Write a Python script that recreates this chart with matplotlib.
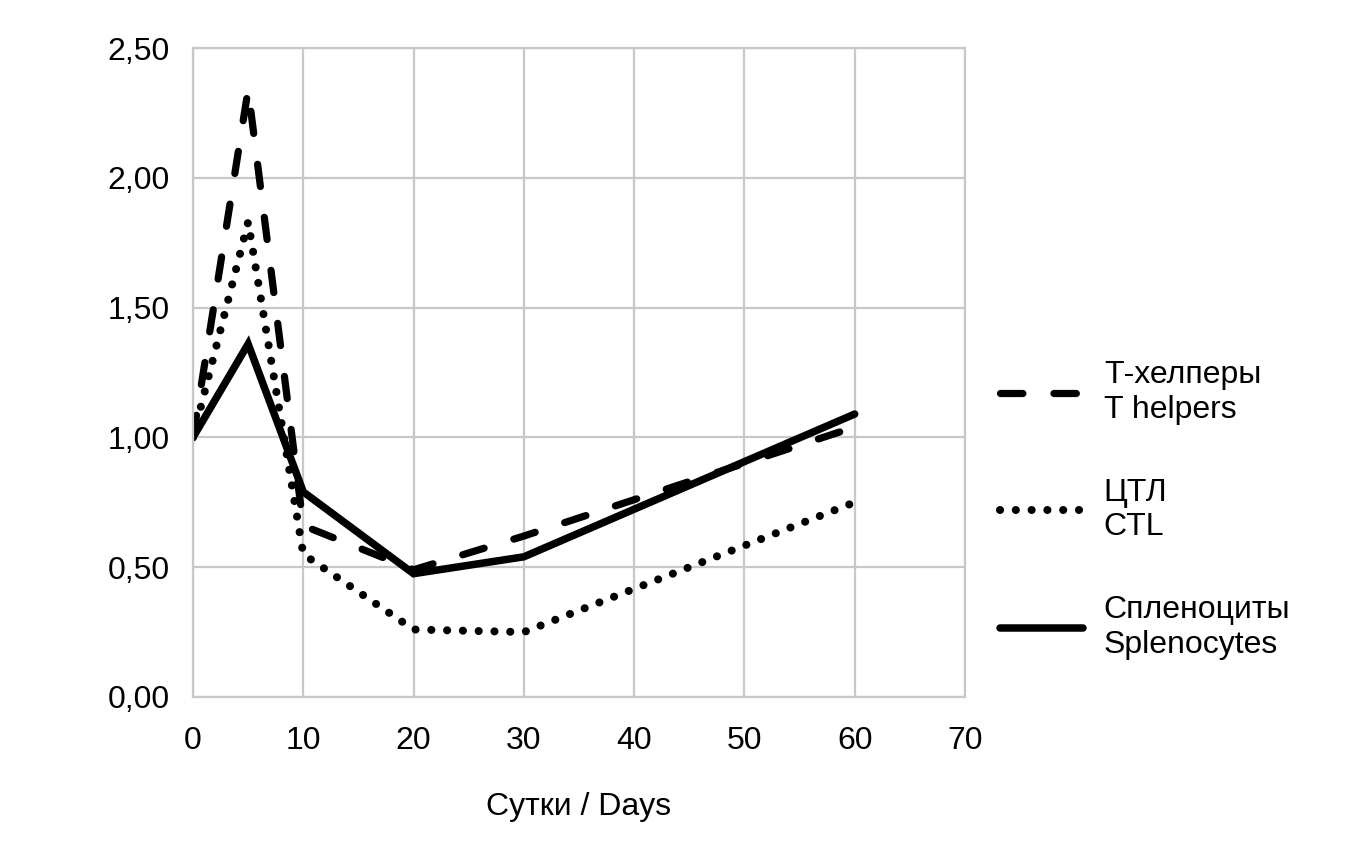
import numpy as np
import matplotlib
matplotlib.use('Agg')
import matplotlib.pyplot as plt

# data
days = [0, 5, 10, 20, 30, 60]
t_helpers = [1.00, 2.34, 0.66, 0.49, 0.62, 1.04]
ctl = [1.00, 1.83, 0.55, 0.26, 0.25, 0.75]
splenocytes = [1.00, 1.36, 0.79, 0.475, 0.54, 1.09]

labels = ['Т-хелперы\nT helpers', 'ЦТЛ\nCTL', 'Спленоциты\nSplenocytes']
xticks = [0, 10, 20, 30, 40, 50, 60, 70]
yticks = [0.0, 0.5, 1.0, 1.5, 2.0, 2.5]

plt.rcParams['font.family'] = ['Liberation Sans Narrow', 'Liberation Sans', 'DejaVu Sans']
plt.rcParams['font.size'] = 23

fig = plt.figure(figsize=(13.71, 8.67), dpi=100)
ax = fig.add_axes([193/1371, 1-697/867, (965-193)/1371, (697-48)/867])

grid_c = '#c8c8c8'
ax.plot(days, t_helpers, color='black', lw=5.2, dashes=(3.1, 4.3),
        dash_capstyle='round', dash_joinstyle='round', label=labels[0])
ax.plot(days, ctl, color='black', lw=5.8, dashes=(0.01, 1.95),
        dash_capstyle='round', label=labels[1])
ax.plot(days, splenocytes, color='black', lw=5.4, solid_capstyle='round',
        solid_joinstyle='miter', label=labels[2])

ax.set_xlim(0, 70)
ax.set_ylim(0, 2.5)
ax.set_xticks(xticks)
ax.set_yticks(yticks)
ax.set_yticklabels([('%.2f' % v).replace('.', ',') for v in yticks])
ax.grid(True, color=grid_c, lw=1.6)
ax.set_axisbelow(True)
for s in ax.spines.values():
    s.set_color(grid_c)
    s.set_linewidth(1.6)
ax.tick_params(axis='both', length=0)
ax.tick_params(axis='x', pad=21)
ax.tick_params(axis='y', pad=17)
ax.set_xlabel('Сутки / Days', labelpad=26)

fig.legend(loc='center left', bbox_to_anchor=(1000/1371, 1-510/867),
           frameon=False, handlelength=2.6, handletextpad=0.65,
           labelspacing=1.65, borderpad=0, borderaxespad=0)

fig.savefig('out.png', dpi=100)
